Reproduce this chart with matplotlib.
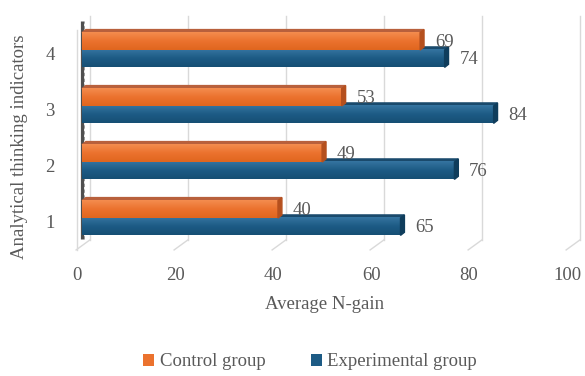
import matplotlib.pyplot as plt
import numpy as np
from matplotlib.patches import Polygon
from matplotlib.colors import LinearSegmentedColormap

plt.rcParams['font.family'] = ['Liberation Serif', 'DejaVu Serif']

# Average N-gain per analytical thinking indicator
indicators = ['1', '2', '3', '4']
control = [40, 49, 53, 69]
experimental = [65, 76, 84, 74]
x_ticks = [0, 20, 40, 60, 80, 100]

text_col = '#595959'
fs = 13.5
orange_grad = ['#F48C4E', '#EB722E', '#E0661F']
orange_side = '#B5501E'
orange_top = '#B8603C'
blue_grad = ['#3574A0', '#1D5B85', '#164F74']
blue_side = '#0F3D5C'
blue_top = '#1A4A6C'
grid_col = '#D9D9D9'

fig = plt.figure(figsize=(5.85, 3.76), dpi=100)
ax = fig.add_axes([0, 0, 1, 1])
ax.axis('off')

# depth of the 3D effect (bar faces) and of the chart floor
dx, dy = 0.8, 0.055
back_dx = 1.63
top_y, floor_y = 4.6, 0.61
front_floor_y = 0.43

y = np.arange(1, len(indicators) + 1)
h = 0.31

# back wall gridlines plus their slanted floor lines
for t in x_ticks:
    ax.plot([t + back_dx, t + back_dx], [floor_y, top_y], color=grid_col, lw=1, zorder=1)
    ax.plot([t + back_dx, t - 1.2], [floor_y, front_floor_y], color=grid_col, lw=1, zorder=1)
    ax.text(t - 1.0, -0.02, str(t), ha='center', va='center', fontsize=fs, color=text_col)

# left side wall
ax.plot([-1.0, -1.0], [front_floor_y, 4.35], color='#DADADA', lw=1, zorder=1)
ax.plot([0.1, 0.1], [0.62, 4.52], color='#4F4F4F', lw=2.3, solid_capstyle='butt', zorder=1.5)
ax.plot([0.35, 0.35], [0.62, 4.52], color='#8C8C8C', lw=0.6, ls=(0, (4, 3)), zorder=1.6)


def bar3d(vals, yc, grad, side, top, z):
    cmap = LinearSegmentedColormap.from_list('face', grad)
    rects = ax.barh(yc, vals, height=h, color=grad[1], zorder=z)
    for r, v in zip(rects, vals):
        y0, y1 = r.get_y(), r.get_y() + r.get_height()
        # shaded front face
        ax.imshow(np.linspace(0, 1, 32).reshape(-1, 1), cmap=cmap, aspect='auto',
                  extent=(0, v, y0, y1), origin='upper', interpolation='bilinear',
                  zorder=z + 0.05)
        ax.add_patch(Polygon([(0, y1), (dx, y1 + dy), (v + dx, y1 + dy), (v, y1)],
                             closed=True, color=top, zorder=z - 0.1))
        ax.add_patch(Polygon([(v, y0), (v + dx, y0 + dy), (v + dx, y1 + dy), (v, y1)],
                             closed=True, color=side, zorder=z + 0.1))
        ax.text(v + 3.0, (y0 + y1) / 2 - 0.02, str(v), ha='left', va='center',
                fontsize=fs, color=text_col, zorder=10)
    return rects


b_exp = bar3d(experimental, y - h / 2, blue_grad, blue_side, blue_top, 3)
b_ctl = bar3d(control, y + h / 2, orange_grad, orange_side, orange_top, 4)

# category labels
for yi, lab in zip(y, indicators):
    ax.text(-6.5, yi - 0.09, lab, ha='center', va='center', fontsize=fs, color=text_col)

ax.text(49.5, -0.54, 'Average N-gain', ha='center', va='center', fontsize=fs, color=text_col)
fig.text(20 / 585, 1 - 147 / 376, 'Analytical thinking indicators', rotation=90,
         ha='center', va='center', fontsize=fs, color=text_col)

ax.set_xlim(-16.73, 102.65)
ax.set_ylim(-1.821, 4.893)

fig.legend([b_ctl[0], b_exp[0]], ['Control group', 'Experimental group'],
           loc='center', bbox_to_anchor=(310 / 585, 1 - 362 / 376), ncol=2, frameon=False,
           fontsize=fs, labelcolor=text_col, handlelength=0.6, handleheight=0.6,
           handletextpad=0.3, columnspacing=2.4)

fig.savefig('out.png', dpi=100)
